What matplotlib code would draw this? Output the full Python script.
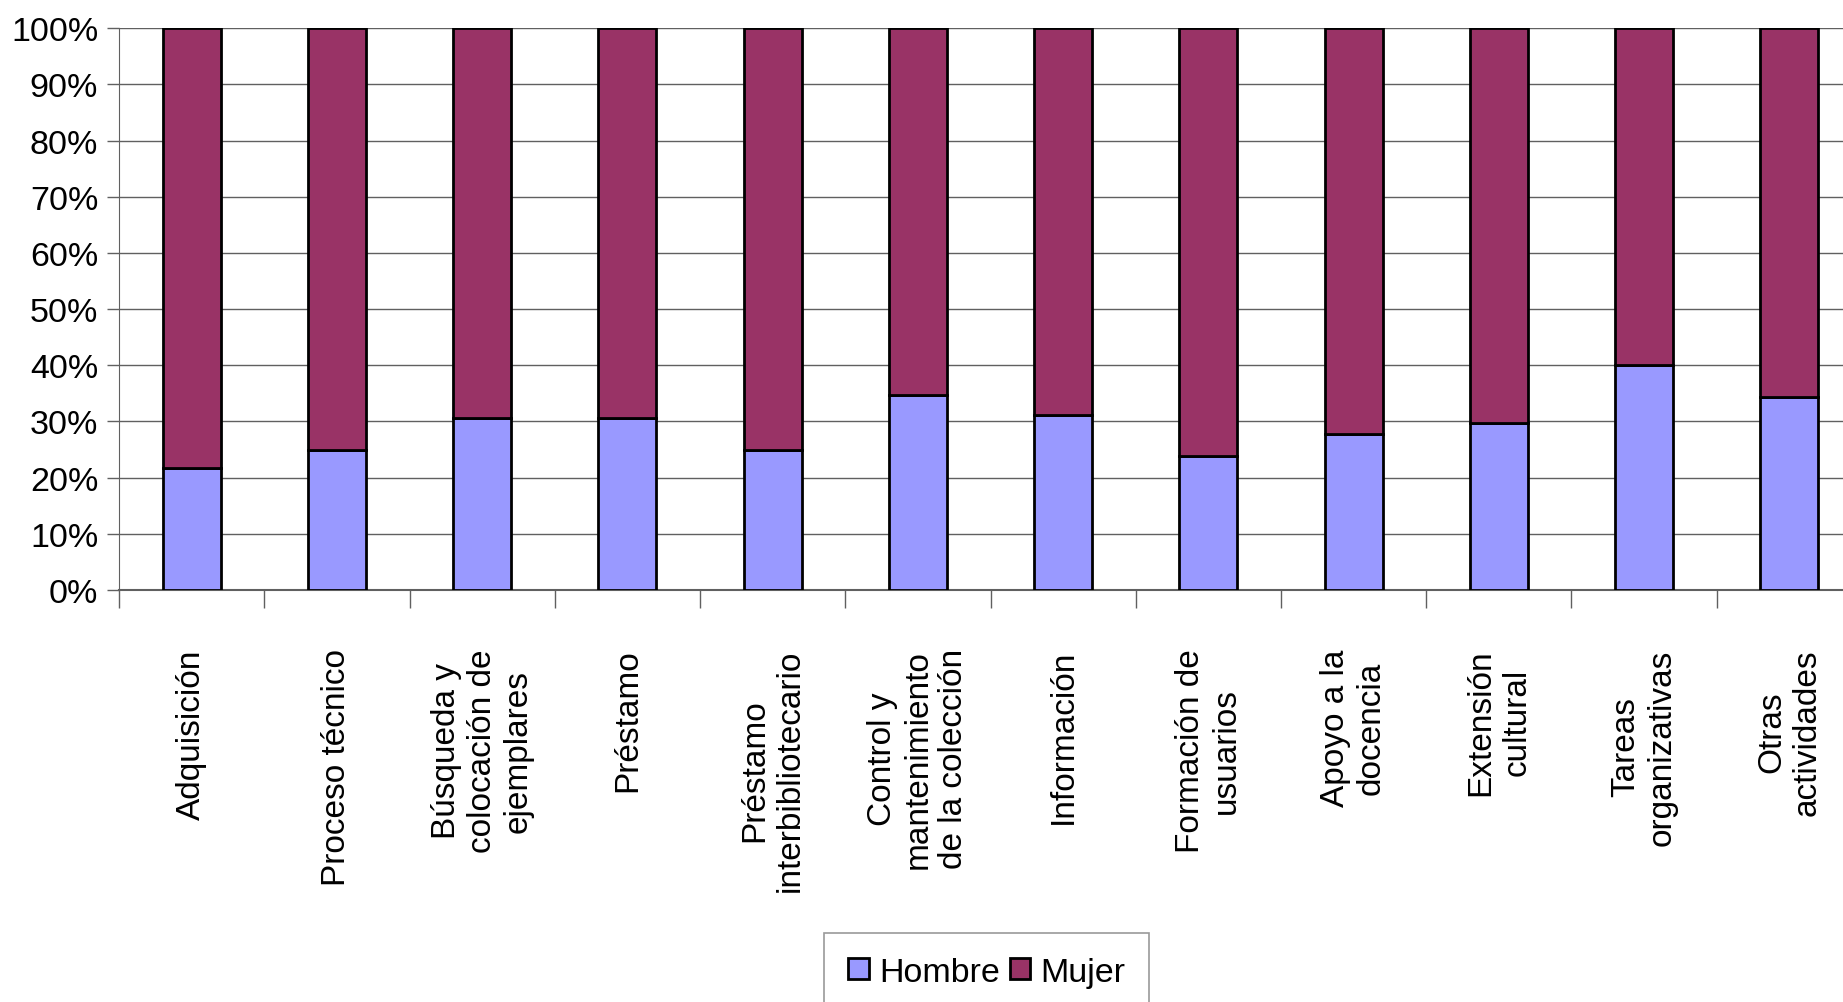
import matplotlib
matplotlib.use("Agg")
import matplotlib.pyplot as plt
import numpy as np

categorias = ["Adquisición", "Proceso técnico", "Búsqueda y\ncolocación de\nejemplares",
              "Préstamo", "Préstamo\ninterbibliotecario",
              "Control y\nmantenimiento\nde la colección", "Información",
              "Formación de\nusuarios", "Apoyo a la\ndocencia", "Extensión\ncultural",
              "Tareas\norganizativas", "Otras\nactividades"]
hombre = [21.8, 25.0, 30.6, 30.6, 25.0, 34.8, 31.2, 23.9, 27.7, 29.7, 40.0, 34.4]
mujer = [100 - h for h in hombre]
ytick_vals = list(range(0, 101, 10))

plt.rcParams['font.family'] = ['Liberation Sans', 'DejaVu Sans']

fig = plt.figure(figsize=(18.43, 10.03), dpi=100)
ax = fig.add_axes([0.0646, 0.4108, 0.9457, 0.56])

x = np.arange(len(categorias))
ax.bar(x, hombre, width=0.4, color="#9999FF", edgecolor="black", linewidth=2.0,
       label="Hombre", zorder=3)
ax.bar(x, mujer, width=0.4, bottom=hombre, color="#993366", edgecolor="black",
       linewidth=2.0, label="Mujer", zorder=3)

ax.set_xlim(-0.5, len(categorias) - 0.5)
ax.set_ylim(0, 100)
ax.set_yticks(ytick_vals)
ax.set_yticklabels([f"{v}%" for v in ytick_vals], fontsize=24.5)
ax.yaxis.grid(True, color="#606060", linewidth=1.0, zorder=0)
ax.tick_params(axis="y", length=9, width=1, color="#606060", pad=6)

# ticks between categories, labels at the centres
ax.set_xticks(np.arange(len(categorias) + 1) - 0.5)
ax.set_xticklabels([])
ax.tick_params(axis="x", which="major", length=13, width=1, color="#606060")
ax.set_xticks(x, minor=True)
ax.set_xticklabels(categorias, minor=True, rotation=90, fontsize=24,
                   linespacing=1.2, multialignment="center")
ax.tick_params(axis="x", which="minor", length=0, pad=42)

for s in ["top", "right"]:
    ax.spines[s].set_visible(False)
ax.spines["left"].set_color("#606060")
ax.spines["bottom"].set_color("#606060")
ax.spines["bottom"].set_linewidth(1.5)

leg = fig.legend(loc="upper center", bbox_to_anchor=(0.5355, 0.069), ncol=2,
                 fontsize=24.5, frameon=True, fancybox=False, edgecolor="#808080",
                 handlelength=0.6, handleheight=0.6, handletextpad=0.3,
                 columnspacing=0.3, borderpad=0.7, borderaxespad=0)
leg.get_frame().set_linewidth(1.2)
for h in leg.legend_handles:
    h.set_linewidth(2.0)

fig.savefig("out.png", dpi=100)
